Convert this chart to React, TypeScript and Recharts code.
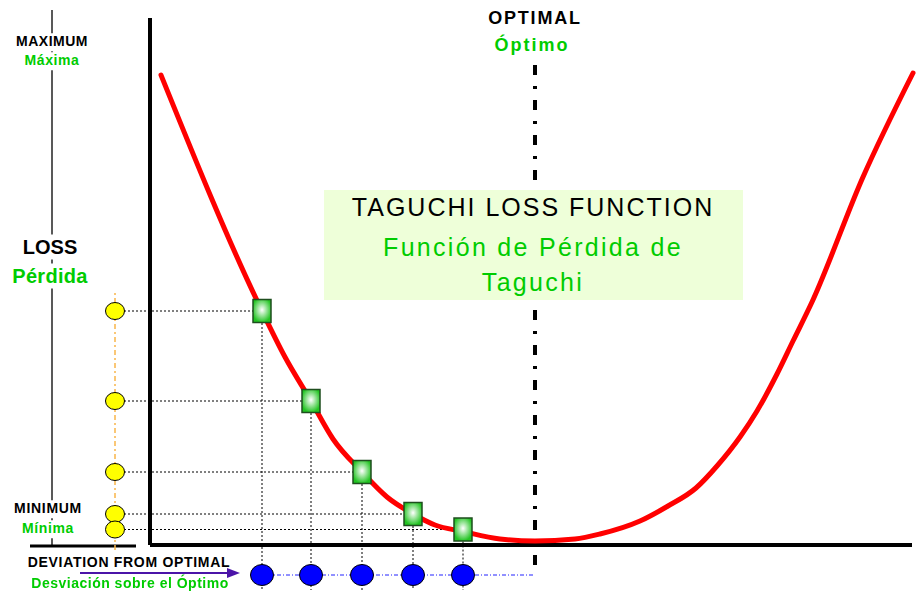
import React from "react";
import {
  ComposedChart, Line, Scatter, XAxis, YAxis, ReferenceLine, ReferenceDot,
} from "recharts";

// deviation from the optimum (x) and loss (y) of the red curve
const curveDev = [-7.48, -5.46, -5.0, -4.48, -4.04, -3.46, -2.96, -2.44, -2.0, -1.44, -0.7, 0, 0.8, 1.3, 2.1, 2.66, 3.22, 3.64, 4.1, 4.44, 4.84, 5.16, 5.54, 6.56, 7.56];
const curveLoss = [9.4, 4.68, 3.76, 2.88, 2.12, 1.46, 0.96, 0.62, 0.4, 0.27, 0.12, 0.08, 0.12, 0.22, 0.48, 0.78, 1.14, 1.58, 2.16, 2.68, 3.42, 4.08, 4.86, 7.36, 9.44];

// sampled deviations (green squares) and their loss
const sampleDev = [-5.46, -4.48, -3.46, -2.44, -1.44];
const sampleLoss = [4.68, 2.88, 1.46, 0.62, 0.31];

const FONT = '"Liberation Sans", Arial, sans-serif';
const GREEN = "#00CC00";

const LOSS_AXIS_X = -8.4;   // column of yellow markers
const DEV_AXIS_Y = -0.6;    // row of blue markers
const AXIS_LEFT = -7.7;
const AXIS_RIGHT = 7.54;
const AXIS_TOP = 10.54;

const curveData = curveDev.map((x, i) => ({ x, y: curveLoss[i] }));
const squareData = sampleDev.map((x, i) => ({ x, y: sampleLoss[i] }));
const yellowData = sampleLoss.map((y) => ({ x: LOSS_AXIS_X, y }));
const blueData = sampleDev.map((x) => ({ x, y: DEV_AXIS_Y }));

const Square = (p: any) => (
  <rect x={p.cx - 9} y={p.cy - 11.5} width={18} height={23} fill="url(#sqGrad)" stroke="#1E4E1E" strokeWidth={1.5} />
);
const Yellow = (p: any) => (
  <ellipse cx={p.cx} cy={p.cy} rx={9.5} ry={8.5} fill="#FFFF00" stroke="#000" strokeWidth={1} />
);
const Blue = (p: any) => (
  <ellipse cx={p.cx} cy={p.cy} rx={11.5} ry={10.5} fill="#0000FF" stroke="#000" strokeWidth={1} />
);
const ArrowHead = (p: any) => (
  <polygon points={`${p.cx},${p.cy} ${p.cx - 13},${p.cy - 5} ${p.cx - 13},${p.cy + 5}`} fill="#4B14A8" />
);

const Txt = ({ x, y, size, color = "#000", bold = true, bg, ls = 0, children }: any) => (
  <div style={{
    position: "absolute", left: x, top: y, transform: "translate(-50%, -50%)",
    fontFamily: FONT, fontSize: size, fontWeight: bold ? 700 : 400, color,
    whiteSpace: "nowrap", lineHeight: 1.25, background: bg, padding: bg ? "0 2px" : 0,
    letterSpacing: ls,
  }}>{children}</div>
);

export default function App() {
  return (
    <div style={{ position: "fixed", left: 0, top: 0, width: 917, height: 592, background: "#fff" }}>
      <ComposedChart width={917} height={592} margin={{ top: 0, right: 0, left: 0, bottom: 0 }}>
        <defs>
          <radialGradient id="sqGrad" cx="50%" cy="45%" r="55%">
            <stop offset="0%" stopColor="#FFFFFF" />
            <stop offset="100%" stopColor="#22C422" />
          </radialGradient>
        </defs>
        <XAxis type="number" dataKey="x" domain={[-10.7, 7.64]} hide allowDataOverflow />
        <YAxis type="number" dataKey="y" domain={[-0.94, 10.9]} hide allowDataOverflow />

        {/* left scale line */}
        <ReferenceLine segment={[{ x: -9.66, y: -0.02 }, { x: -9.66, y: 10.7 }]} stroke="#222" strokeWidth={1.5} />
        <ReferenceLine segment={[{ x: -10.1, y: -0.02 }, { x: -7.98, y: -0.02 }]} stroke="#000" strokeWidth={3} />
        {/* orange loss guide */}
        <ReferenceLine segment={[{ x: LOSS_AXIS_X, y: -0.1 }, { x: LOSS_AXIS_X, y: 5.08 }]} stroke="#F9B54A" strokeWidth={1.5} strokeDasharray="5 3 2 3" />

        {/* main axes */}
        <ReferenceLine segment={[{ x: AXIS_LEFT, y: 0 }, { x: AXIS_LEFT, y: AXIS_TOP }]} stroke="#000" strokeWidth={4} />
        <ReferenceLine segment={[{ x: AXIS_LEFT, y: 0 }, { x: AXIS_RIGHT, y: 0 }]} stroke="#000" strokeWidth={4} />

        {/* optimum */}
        <ReferenceLine segment={[{ x: 0, y: 9.6 }, { x: 0, y: DEV_AXIS_Y }]} stroke="#000" strokeWidth={4} strokeDasharray="10 11 3 11" />

        {/* deviation arrow + blue guide */}
        <ReferenceLine segment={[{ x: -9.1, y: -0.56 }, { x: -6.1, y: -0.56 }]} stroke="#4B14A8" strokeWidth={2} />
        <ReferenceDot x={-5.9} y={-0.56} r={5} shape={ArrowHead} />
        <ReferenceLine segment={[{ x: -5.7, y: DEV_AXIS_Y }, { x: 0, y: DEV_AXIS_Y }]} stroke="#2222FF" strokeWidth={1} strokeDasharray="4 2 1 2" />

        <Scatter data={yellowData} shape={Yellow} isAnimationActive={false} />
        <Scatter data={blueData} shape={Blue} isAnimationActive={false} />

        {/* dotted connectors */}
        {sampleDev.map((d, i) => (
          <ReferenceLine key={"h" + i} segment={[{ x: -8.22, y: sampleLoss[i] }, { x: d, y: sampleLoss[i] }]} stroke="#000" strokeWidth={1} strokeDasharray="2 2" />
        ))}
        {sampleDev.map((d, i) => (
          <ReferenceLine key={"v" + i} segment={[{ x: d, y: sampleLoss[i] }, { x: d, y: -0.9 }]} stroke="#000" strokeWidth={1} strokeDasharray="2 2" />
        ))}

        <Line data={curveData} dataKey="y" type="monotone" stroke="#FF0000" strokeWidth={5} strokeLinecap="round" strokeLinejoin="round" dot={false} activeDot={false} isAnimationActive={false} />
        <Scatter data={squareData} shape={Square} isAnimationActive={false} />
      </ComposedChart>

      {/* title box */}
      <div style={{ position: "absolute", left: 324, top: 190, width: 419, height: 110, background: "#EEFFD9" }} />
      <Txt x={533} y={208} size={25} bold={false} ls={2}>TAGUCHI LOSS FUNCTION</Txt>
      <Txt x={533} y={248} size={25} bold={false} ls={2.3} color={GREEN}>Función de Pérdida de</Txt>
      <Txt x={533} y={283} size={25} bold={false} ls={2.3} color={GREEN}>Taguchi</Txt>

      <Txt x={535} y={18} size={18} ls={1.8}>OPTIMAL</Txt>
      <Txt x={532} y={45} size={18} ls={2} color={GREEN}>Óptimo</Txt>

      <Txt x={52} y={42} size={14} ls={0.5} bg="#fff">MAXIMUM</Txt>
      <Txt x={52} y={61} size={14} ls={0.6} color={GREEN} bg="#fff">Máxima</Txt>
      <Txt x={50} y={247} size={20} bg="#fff">LOSS</Txt>
      <Txt x={50} y={276} size={20} ls={0.3} color={GREEN} bg="#fff">Pérdida</Txt>
      <Txt x={48} y={509} size={14} ls={0.7} bg="#fff">MINIMUM</Txt>
      <Txt x={48} y={529} size={14} ls={0.6} color={GREEN} bg="#fff">Mínima</Txt>

      <Txt x={129} y={563} size={14} ls={0.7}>DEVIATION FROM OPTIMAL</Txt>
      <Txt x={130} y={584} size={14} ls={0.5} color={GREEN}>Desviación sobre el Óptimo</Txt>
    </div>
  );
}
